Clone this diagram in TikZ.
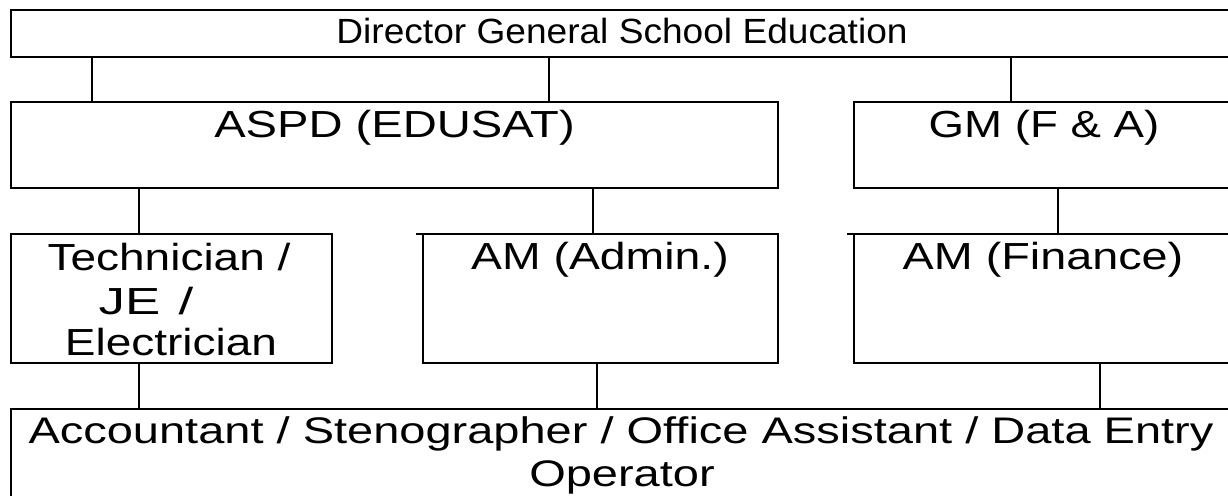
\documentclass[tikz,border=0pt]{standalone}
\usepackage{fontspec}
\setmainfont{Liberation Sans}
\usepackage{graphicx}
\begin{document}
\begin{tikzpicture}[x=1pt,y=-1pt,
  box/.style={draw,line width=2pt,rectangle,inner sep=0pt,outer sep=0pt,anchor=north west},
  link/.style={line width=2pt},
  lbl/.style={anchor=base,inner sep=0pt,font=\fontsize{37.7}{43}\selectfont},
  toplbl/.style={anchor=base,inner sep=0pt,font=\fontsize{35}{40}\selectfont},
  botlbl/.style={anchor=base,inner sep=0pt,font=\fontsize{37}{43}\selectfont}]
\useasboundingbox (0,0) rectangle (1228,495);
\clip (0,0) rectangle (1228,495);
% boxes
\node[box,minimum width=1229pt,minimum height=47pt] (dg) at (11,10) {};
\node[box,minimum width=767pt,minimum height=86pt] (aspd) at (11,102) {};
\node[box,minimum width=390pt,minimum height=86pt] (gm) at (854,102) {};
\node[box,minimum width=321pt,minimum height=129pt] (tech) at (11,234) {};
\node[box,minimum width=355pt,minimum height=129pt] (admin) at (423,234) {};
\node[box,minimum width=390pt,minimum height=129pt] (fin) at (854,234) {};
\node[box,minimum width=1229pt,minimum height=130pt] (bot) at (11,409) {};
% labels
\node[toplbl] (dgt) at (622,44) {\scalebox{1.06}[1]{Director General School Education}};
\node[lbl] (aspdt) at (394.5,137) {\scalebox{1.25}[1]{ASPD (EDUSAT)}};
\node[lbl] (gmt) at (1044,137) {\scalebox{1.21}[1]{GM (F \& A)}};
\node[lbl] (techt1) at (169,270) {\scalebox{1.22}[1]{Technician /}};
\node[lbl] (techt2) at (146,314) {\scalebox{1.4}[1]{JE\hspace{0.35em}/}};
\node[lbl] (techt3) at (171,355) {\scalebox{1.22}[1]{Electrician}};
\node[lbl] (admint) at (600,269) {\scalebox{1.23}[1]{AM (Admin.)}};
\node[lbl] (fint) at (1043,269) {\scalebox{1.24}[1]{AM (Finance)}};
\node[botlbl] (bott1) at (621,443) {\scalebox{1.27}[1]{Accountant / Stenographer / Office Assistant / Data Entry}};
\node[botlbl] (bott2) at (622,486) {\scalebox{1.27}[1]{Operator}};
% connectors
\draw[link] ([xshift=81pt]dg.south west) -- ([xshift=81pt]aspd.north west);
\draw[link] ([xshift=538pt]dg.south west) -- ([xshift=538pt]aspd.north west);
\draw[link] ([xshift=1000pt]dg.south west) -- ([xshift=157pt]gm.north west);
\draw[link] ([xshift=128pt]aspd.south west) -- ([xshift=128pt]tech.north west);
\draw[link] ([xshift=582pt]aspd.south west) -- ([xshift=170pt]admin.north west);
\draw[link] ([xshift=204pt]gm.south west) -- ([xshift=204pt]fin.north west);
\draw[link] ([xshift=128pt]tech.south west) -- ([xshift=128pt]bot.north west);
\draw[link] ([xshift=174pt]admin.south west) -- ([xshift=586pt]bot.north west);
\draw[link] ([xshift=246pt]fin.south west) -- ([xshift=1089pt]bot.north west);
% small top-edge overhangs
\draw[link] (admin.north west) -- ++(-7pt,0pt);
\draw[link] (fin.north west) -- ++(-7pt,0pt);
\end{tikzpicture}
\end{document}
